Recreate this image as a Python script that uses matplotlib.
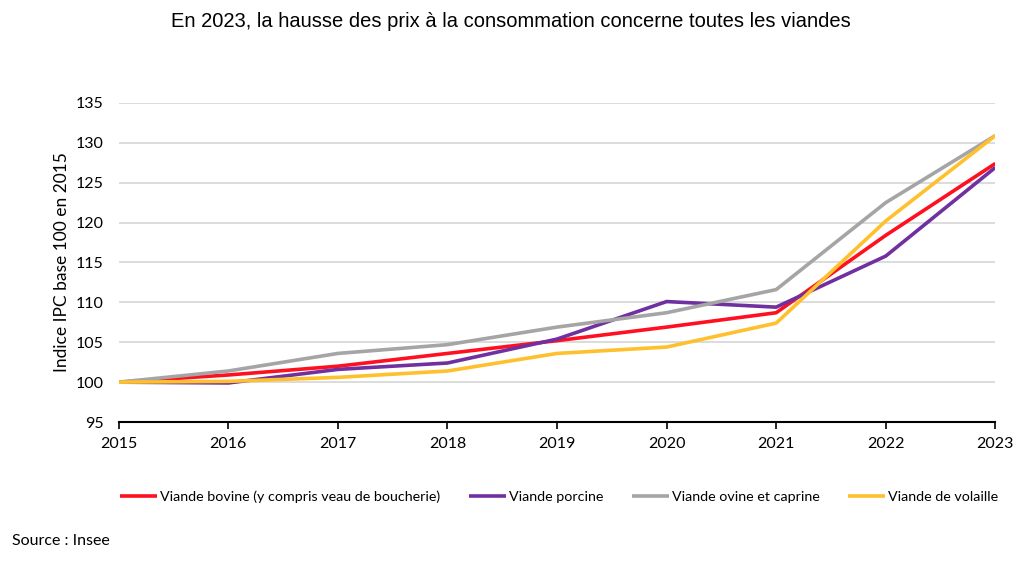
import matplotlib
matplotlib.use('Agg')
import matplotlib.pyplot as plt

# Indice IPC base 100 en 2015
years = [2015, 2016, 2017, 2018, 2019, 2020, 2021, 2022, 2023]
bovine = [100, 100.9, 102.0, 103.6, 105.2, 106.9, 108.7, 118.4, 127.4]
porcine = [100, 99.9, 101.6, 102.4, 105.4, 110.1, 109.4, 115.8, 126.9]
ovine = [100, 101.4, 103.6, 104.7, 106.9, 108.7, 111.6, 122.5, 130.9]
volaille = [100, 100.1, 100.6, 101.4, 103.6, 104.4, 107.4, 120.2, 130.9]

labels = ['Viande bovine (y compris veau de boucherie)', 'Viande porcine',
          'Viande ovine et caprine', 'Viande de volaille']
colors = ['#FF1020', '#7030A0', '#A5A5A5', '#FFC02E']

plt.rcParams['font.family'] = ['Lato', 'DejaVu Sans']

fig = plt.figure(figsize=(10.24, 5.62), dpi=100)
ax = fig.add_axes([0.116, 0.249, 0.856, 0.568])

for vals, lab, col in zip([bovine, porcine, ovine, volaille], labels, colors):
    ax.plot(years, vals, color=col, linewidth=2.6, label=lab, solid_capstyle='butt')

ax.set_xlim(2015, 2023)
ax.set_ylim(95, 135)
ax.set_yticks(range(95, 136, 5))
ax.set_xticks(years)
ax.grid(axis='y', color='#D9D9D9', linewidth=1.3)
ax.set_axisbelow(True)
for s in ['top', 'right', 'left']:
    ax.spines[s].set_visible(False)
ax.spines['bottom'].set_linewidth(1.5)
ax.tick_params(axis='y', length=0, labelsize=11.5, pad=11)
ax.tick_params(axis='x', direction='out', length=5, width=1.2, labelsize=11.5, pad=6)
ax.set_ylabel('Indice IPC base 100 en 2015', fontsize=12.5, labelpad=4)

fig.text(0.499, 0.962, 'En 2023, la hausse des prix à la consommation concerne toutes les viandes',
         ha='center', va='center', fontsize=14.5, family=['Liberation Sans', 'DejaVu Sans'])

fig.legend(loc='center', bbox_to_anchor=(0.546, 0.117), ncol=4, frameon=False,
           fontsize=10.3, handlelength=2.6, handletextpad=0.2, columnspacing=2.0)

fig.text(0.012, 0.037, 'Source : Insee', ha='left', va='center', fontsize=11.5)

fig.savefig('out.png', dpi=100)
